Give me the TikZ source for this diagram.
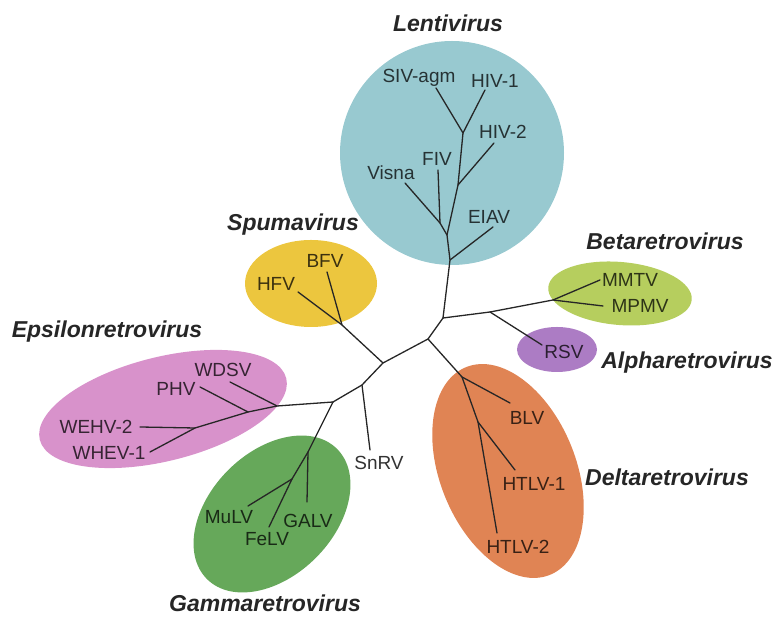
\documentclass[tikz,border=0pt]{standalone}
\usepackage{fontspec}
\setmainfont{Liberation Sans}
\usepackage{tikz}
\usetikzlibrary{positioning}

\definecolor{lenti}{RGB}{152,201,208}
\definecolor{spuma}{RGB}{236,198,62}
\definecolor{epsi}{RGB}{216,146,203}
\definecolor{gamma}{RGB}{102,168,90}
\definecolor{beta}{RGB}{182,206,94}
\definecolor{alpha}{RGB}{172,124,196}
\definecolor{delta}{RGB}{224,132,84}

\begin{document}
\begin{tikzpicture}[x=1pt, y=1pt,
    every node/.style={font=\fontsize{19}{19}\selectfont, inner sep=0pt},
    genus/.style={font=\fontsize{23}{23}\selectfont\bfseries\itshape, text=black!85},
    branch/.style={draw=black!85, line width=1.3pt, line cap=round}
    ]
\useasboundingbox (0,0) rectangle (774,617);
% clades
\fill[lenti] (452,464) circle (112);
\fill[spuma] (311,333.5) ellipse (66 and 43.5);
\fill[epsi, rotate around={14:(163,208)}] (163,208) ellipse (127 and 52);
\fill[gamma, rotate around={45:(272,103)}] (272,103) ellipse (92 and 62);
\fill[beta, rotate around={-5:(620,323.5)}] (620,323.5) ellipse (72 and 31.5);
\fill[alpha] (557,267.5) ellipse (40 and 22.5);
\fill[delta, rotate around={22:(508,146)}] (508,146) ellipse (68 and 112);

% inner nodes
\coordinate (A) at (443,299);
\coordinate (B) at (428,278);
\coordinate (C) at (383,254);
\coordinate (D) at (362,232);
\coordinate (E) at (333,215);
% Lentivirus
\coordinate (l0) at (450,357);
\coordinate (l1) at (447,382);
\coordinate (lv) at (440,394);
\coordinate (l2) at (458,432);
\coordinate (l3) at (463,484);
\coordinate (eiav) at (493,390);
\coordinate (visna) at (405,434);
\coordinate (fiv) at (438,447);
\coordinate (hiv2) at (494,474);
\coordinate (siv) at (436,529);
\coordinate (hiv1) at (485,527);
% Spumavirus
\coordinate (s0) at (342,292);
\coordinate (bfv) at (327,345);
\coordinate (hfv) at (298,325);
% Epsilonretrovirus
\coordinate (e1) at (277,211);
\coordinate (e2) at (248,205);
\coordinate (e3) at (195,189);
\coordinate (wdsv) at (230,235);
\coordinate (phv) at (200,230);
\coordinate (wehv) at (140,190);
\coordinate (whev) at (150,165);
% Gammaretrovirus
\coordinate (g1) at (308,165);
\coordinate (g2) at (292,138);
\coordinate (galv) at (307,115);
\coordinate (mulv) at (248,111);
\coordinate (felv) at (269,90);
\coordinate (snrv) at (370,167);
% Beta / Alpha
\coordinate (b1) at (490,305);
\coordinate (b2) at (553,317);
\coordinate (mmtv) at (600,337);
\coordinate (mpmv) at (603,311);
\coordinate (rsv) at (542,272);
% Deltaretrovirus
\coordinate (d1) at (462,240);
\coordinate (d2) at (478,195);
\coordinate (blv) at (510,214);
\coordinate (htlv1) at (515,147);
\coordinate (htlv2) at (497,84);

% tree
\draw[branch] (A) -- (B) -- (C) -- (D) -- (E);
\draw[branch] (A) -- (l0) -- (l1) -- (l2) -- (l3);
\draw[branch] (l0) -- (eiav);
\draw[branch] (l1) -- (lv) -- (visna);
\draw[branch] (lv) -- (fiv);
\draw[branch] (l2) -- (hiv2);
\draw[branch] (l3) -- (siv);
\draw[branch] (l3) -- (hiv1);
\draw[branch] (C) -- (s0) -- (bfv);
\draw[branch] (s0) -- (hfv);
\draw[branch] (E) -- (e1) -- (e2) -- (e3) -- (wehv);
\draw[branch] (e1) -- (wdsv);
\draw[branch] (e2) -- (phv);
\draw[branch] (e3) -- (whev);
\draw[branch] (E) -- (g1) -- (g2) -- (mulv);
\draw[branch] (g1) -- (galv);
\draw[branch] (g2) -- (felv);
\draw[branch] (D) -- (snrv);
\draw[branch] (A) -- (b1) -- (b2) -- (mmtv);
\draw[branch] (b2) -- (mpmv);
\draw[branch] (b1) -- (rsv);
\draw[branch] (B) -- (d1) -- (d2) -- (htlv2);
\draw[branch] (d1) -- (blv);
\draw[branch] (d2) -- (htlv1);

% leaf labels
\node[text=lenti!25!black] (tsiv) at (419,539) {SIV-agm};
\node[text=lenti!25!black] (thiv1) at (495,536) {HIV-1};
\node[text=lenti!25!black] (thiv2) at (503,485) {HIV-2};
\node[text=lenti!25!black] (tfiv) at (437,458) {FIV};
\node[text=lenti!25!black] (tvisna) at (391,444) {Visna};
\node[text=lenti!25!black] (teiav) at (489,400) {EIAV};
\node[text=spuma!25!black] (tbfv) at (325,356) {BFV};
\node[text=spuma!25!black] (thfv) at (276,333) {HFV};
\node[text=epsi!25!black] (twdsv) at (223,247) {WDSV};
\node[text=epsi!25!black] (tphv) at (176,228) {PHV};
\node[text=epsi!25!black] (twehv) at (96,190) {WEHV-2};
\node[text=epsi!25!black] (twhev) at (109,164) {WHEV-1};
\node[text=gamma!25!black] (tmulv) at (229,100) {MuLV};
\node[text=gamma!25!black] (tfelv) at (267,78) {FeLV};
\node[text=gamma!25!black] (tgalv) at (308,96) {GALV};
\node[text=black!80] (tsnrv) at (379,154) {SnRV};
\node[text=beta!25!black] (tmmtv) at (630,337) {MMTV};
\node[text=beta!25!black] (tmpmv) at (640,311) {MPMV};
\node[text=alpha!25!black] (trsv) at (564,265) {RSV};
\node[text=delta!25!black] (tblv) at (527,199) {BLV};
\node[text=delta!25!black] (thtlv1) at (534,133) {HTLV-1};
\node[text=delta!25!black] (thtlv2) at (518,70) {HTLV-2};

% genus names
\node[genus] (nlenti) at (448,594) {Lentivirus};
\node[genus] (nspuma) at (293,392) {Spumavirus};
\node[genus] (nepsi) at (107,285) {Epsilonretrovirus};
\node[genus] (ngamma) at (265,14) {Gammaretrovirus};
\node[genus] (nbeta) at (665,376) {Betaretrovirus};
\node[genus] (nalpha) at (687,254) {Alpharetrovirus};
\node[genus] (ndelta) at (667,140) {Deltaretrovirus};
\end{tikzpicture}
\end{document}
